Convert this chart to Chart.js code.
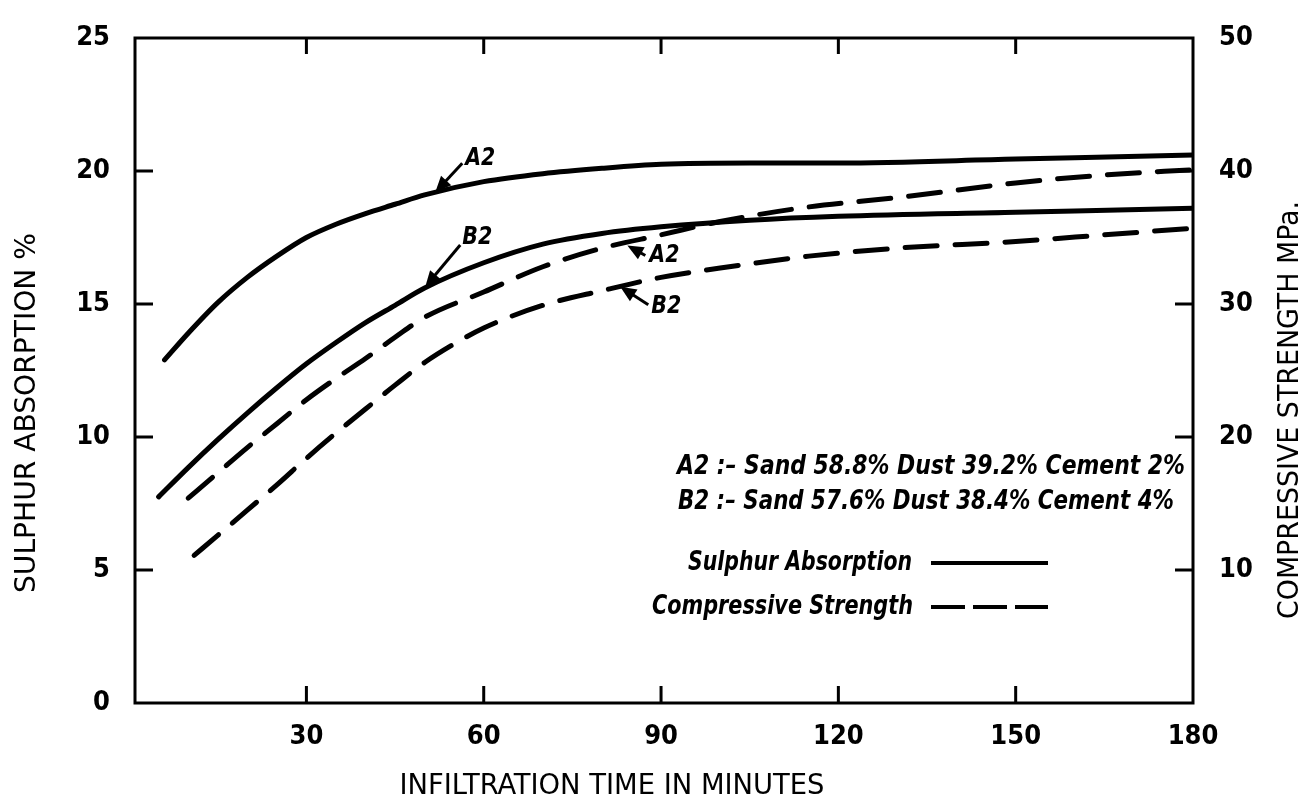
<!DOCTYPE html>
<html>
<head>
<meta charset="utf-8">
<script src="https://cdn.jsdelivr.net/npm/chart.js@4.4.1/dist/chart.umd.min.js"></script>
<style>
    html, body { margin: 0; padding: 0; background: #fff; }
    #wrap { width: 1306px; height: 798px; position: relative; }
</style>
</head>
<body>
<div id="wrap"><canvas id="chart"></canvas></div>
<script>
// --- data ---
const timeTicks = [30, 60, 90, 120, 150, 180];
const sulphurTicks = [0, 5, 10, 15, 20, 25];
const strengthTicks = [0, 10, 20, 30, 40, 50];

// sulphur absorption % (left axis)
const timeA2Sulphur = [6, 10, 15, 20, 25, 30, 35, 40, 45, 50, 60, 70, 80, 90, 105, 120, 150, 180];
const sulphurA2 = [12.9, 13.9, 15.05, 16.0, 16.8, 17.5, 18.0, 18.4, 18.75, 19.1, 19.6, 19.9, 20.1, 20.25, 20.3, 20.3, 20.45, 20.6];
const timeB2Sulphur = [5, 10, 15, 20, 25, 30, 35, 40, 45, 50, 60, 70, 80, 90, 105, 120, 150, 180];
const sulphurB2 = [7.75, 8.85, 9.9, 10.9, 11.85, 12.75, 13.55, 14.3, 14.95, 15.6, 16.55, 17.25, 17.65, 17.9, 18.15, 18.3, 18.45, 18.6];

// compressive strength MPa (right axis)
const timeA2Strength = [10, 15, 20, 25, 30, 35, 40, 45, 50, 60, 70, 80, 90, 100, 115, 130, 150, 165, 180];
const strengthA2 = [15.4, 17.3, 19.2, 21.0, 22.8, 24.4, 25.9, 27.5, 29.0, 30.9, 32.8, 34.2, 35.2, 36.2, 37.3, 38.0, 39.1, 39.7, 40.1];
const timeB2Strength = [11, 15, 20, 25, 30, 35, 40, 45, 50, 55, 60, 70, 80, 90, 100, 115, 130, 150, 165, 180];
const strengthB2 = [11.1, 12.6, 14.5, 16.4, 18.4, 20.3, 22.1, 23.9, 25.6, 27.0, 28.2, 29.9, 31.0, 32.0, 32.7, 33.6, 34.2, 34.7, 35.2, 35.7];

// arrow labels on the curves (tip in data units)
const markNames = ['A2', 'B2', 'A2', 'B2'];
const markTime = [51.8, 50.1, 84.3, 83.1];
const markValue = [19.2, 15.64, 34.4, 31.3];
const markAxis = ['y', 'y', 'y2', 'y2'];

const legendNotes = [
    'A2 :– Sand 58.8% Dust 39.2% Cement 2%',
    'B2 :– Sand 57.6% Dust 38.4% Cement 4%'
];
const seriesNames = ['Sulphur Absorption', 'Compressive Strength'];

const FONT = "'DejaVu Sans Condensed', 'Liberation Sans Narrow', 'DejaVu Sans', sans-serif";

function toPoints(xs, ys) {
    return xs.map((x, i) => ({ x: x, y: ys[i] }));
}

// 幅に合わせて文字を描く
function fitText(ctx, text, x, y, width, align) {
    const w = ctx.measureText(text).width;
    ctx.save();
    ctx.translate(x, y);
    ctx.scale(width / w, 1);
    ctx.textAlign = align;
    ctx.fillText(text, 0, 0);
    ctx.restore();
}

function arrow(ctx, fx, fy, tx, ty) {
    const dx = tx - fx, dy = ty - fy;
    const len = Math.hypot(dx, dy);
    const ux = dx / len, uy = dy / len;
    ctx.beginPath();
    ctx.moveTo(fx, fy);
    ctx.lineTo(tx - ux * 8, ty - uy * 8);
    ctx.lineWidth = 3;
    ctx.stroke();
    ctx.beginPath();
    ctx.moveTo(tx, ty);
    ctx.lineTo(tx - ux * 16 - uy * 7, ty - uy * 16 + ux * 7);
    ctx.lineTo(tx - ux * 16 + uy * 7, ty - uy * 16 - ux * 7);
    ctx.closePath();
    ctx.fill();
}

const figurePlugin = {
    id: 'figure',
    afterDraw(chart) {
        const ctx = chart.ctx;
        const a = chart.chartArea;
        const sx = chart.scales.x, sy = chart.scales.y, sy2 = chart.scales.y2;
        ctx.save();
        ctx.strokeStyle = '#000';
        ctx.fillStyle = '#000';
        ctx.lineCap = 'butt';

        // frame
        ctx.lineWidth = 3;
        ctx.strokeRect(a.left, a.top, a.right - a.left, a.bottom - a.top);

        // inward ticks
        ctx.lineWidth = 3;
        ctx.beginPath();
        timeTicks.slice(0, -1).forEach(v => {
            const px = sx.getPixelForValue(v);
            ctx.moveTo(px, a.bottom); ctx.lineTo(px, a.bottom - 17);
            ctx.moveTo(px, a.top); ctx.lineTo(px, a.top + 16);
        });
        sulphurTicks.slice(1, -1).forEach(v => {
            const py = sy.getPixelForValue(v);
            ctx.moveTo(a.left, py); ctx.lineTo(a.left + 18, py);
        });
        strengthTicks.slice(1, -1).forEach(v => {
            const py = sy2.getPixelForValue(v);
            ctx.moveTo(a.right, py); ctx.lineTo(a.right - 18, py);
        });
        ctx.stroke();

        // axis titles
        ctx.textBaseline = 'middle';
        ctx.font = '29px ' + FONT;
        ctx.save();
        ctx.translate(27, 413);
        ctx.rotate(-Math.PI / 2);
        fitText(ctx, 'SULPHUR ABSORPTION %', 0, 0, 360, 'center');
        ctx.restore();
        ctx.save();
        ctx.translate(1290, 410);
        ctx.rotate(-Math.PI / 2);
        fitText(ctx, 'COMPRESSIVE STRENGTH MPa.', 0, 0, 418, 'center');
        ctx.restore();
        ctx.font = '28px ' + FONT;
        fitText(ctx, 'INFILTRATION TIME IN MINUTES', 612, 787, 425, 'center');

        // curve labels with arrows
        const labelDx = [45, 52, 37, 46];
        const labelDy = [-34, -49, 10, 20];
        const tailDx = [27, 35, 18, 28];
        const tailDy = [-29, -42, 10, 18];
        ctx.font = 'italic bold 24px ' + FONT;
        markNames.forEach((name, i) => {
            const tx = sx.getPixelForValue(markTime[i]);
            const ty = chart.scales[markAxis[i]].getPixelForValue(markValue[i]);
            arrow(ctx, tx + tailDx[i], ty + tailDy[i], tx, ty);
            fitText(ctx, name, tx + labelDx[i], ty + labelDy[i], 30, 'center');
        });

        // legend block
        ctx.font = 'italic bold 26px ' + FONT;
        fitText(ctx, legendNotes[0], 677, 467, 508, 'left');
        fitText(ctx, legendNotes[1], 678, 502, 496, 'left');
        fitText(ctx, seriesNames[0], 912, 563, 224, 'right');
        fitText(ctx, seriesNames[1], 913, 607, 261, 'right');
        ctx.lineWidth = 4;
        ctx.beginPath();
        ctx.moveTo(931, 563); ctx.lineTo(1048, 563);
        ctx.stroke();
        ctx.setLineDash([34, 8]);
        ctx.beginPath();
        ctx.moveTo(931, 607); ctx.lineTo(1048, 607);
        ctx.stroke();
        ctx.restore();
    }
};

function lineSet(label, pts, axis, dashed) {
    return {
        label: label,
        data: pts,
        yAxisID: axis,
        borderColor: '#000',
        borderWidth: 5,
        borderDash: dashed ? [32, 18] : [],
        borderCapStyle: 'round',
        pointRadius: 0,
        fill: false,
        cubicInterpolationMode: 'monotone'
    };
}

const tickFont = { family: FONT, size: 27, weight: 'bold' };

new Chart(document.getElementById('chart'), {
    type: 'line',
    data: {
        datasets: [
            lineSet('A2 Sulphur Absorption', toPoints(timeA2Sulphur, sulphurA2), 'y', false),
            lineSet('B2 Sulphur Absorption', toPoints(timeB2Sulphur, sulphurB2), 'y', false),
            lineSet('A2 Compressive Strength', toPoints(timeA2Strength, strengthA2), 'y2', true),
            lineSet('B2 Compressive Strength', toPoints(timeB2Strength, strengthB2), 'y2', true)
        ]
    },
    options: {
        responsive: true,
        maintainAspectRatio: false,
        animation: false,
        layout: { padding: { top: 38, left: 0, right: 0, bottom: 0 } },
        plugins: {
            legend: { display: false },
            tooltip: { enabled: false }
        },
        scales: {
            x: {
                type: 'linear',
                min: 1,
                max: 180,
                afterBuildTicks: s => { s.ticks = timeTicks.map(v => ({ value: v })); },
                afterFit: s => { s.height = 95; s.paddingLeft = 0; s.paddingRight = 0; },
                grid: { display: false, drawTicks: false },
                border: { display: false },
                ticks: { color: '#000', font: tickFont, padding: 18, maxRotation: 0 }
            },
            y: {
                position: 'left',
                min: 0,
                max: 25,
                afterBuildTicks: s => { s.ticks = sulphurTicks.map(v => ({ value: v })); },
                afterFit: s => { s.width = 135; s.paddingTop = 0; s.paddingBottom = 0; },
                grid: { display: false, drawTicks: false },
                border: { display: false },
                ticks: { color: '#000', font: tickFont, padding: 25 }
            },
            y2: {
                position: 'right',
                min: 0,
                max: 50,
                afterBuildTicks: s => { s.ticks = strengthTicks.slice(1).map(v => ({ value: v })); },
                afterFit: s => { s.width = 113; s.paddingTop = 0; s.paddingBottom = 0; },
                grid: { display: false, drawTicks: false },
                border: { display: false },
                ticks: { color: '#000', font: tickFont, padding: 26 }
            }
        }
    },
    plugins: [figurePlugin]
});
</script>
</body>
</html>
